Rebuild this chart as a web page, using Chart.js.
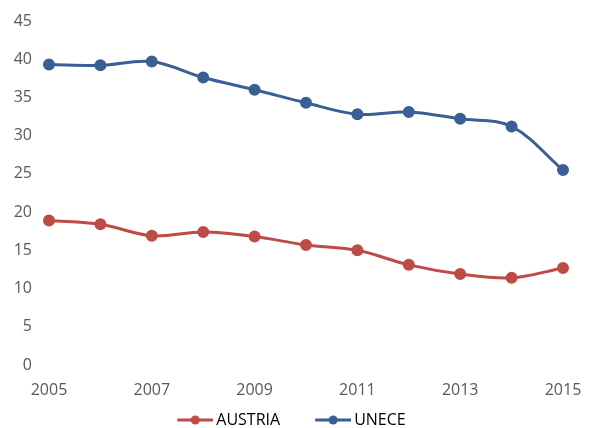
<!DOCTYPE html>
<html>
<head>
<meta charset="utf-8">
<script src="https://cdn.jsdelivr.net/npm/chart.js@4.4.0/dist/chart.umd.min.js"></script>
<style>
  html, body { margin: 0; padding: 0; background: #fff; }
  #wrap { width: 589px; height: 428px; }
</style>
</head>
<body>
<div id="wrap"><canvas id="chart"></canvas></div>
<script>
// values
const years = ['2005', '2006', '2007', '2008', '2009', '2010', '2011', '2012', '2013', '2014', '2015'];
const austria = [18.9, 18.4, 16.9, 17.4, 16.8, 15.7, 15.0, 13.1, 11.9, 11.4, 12.7];
const unece = [39.3, 39.2, 39.7, 37.6, 36.0, 34.3, 32.8, 33.1, 32.2, 31.2, 25.5];
const seriesNames = ['AUSTRIA', 'UNECE'];
const yMin = 0, yMax = 45, yStep = 5;

const red = '#BE4B48';
const blue = '#3A5F94';

// legend marker: short line with a dot, like the office style legend
const legendMarker = (color) => {
    const c = document.createElement('canvas');
    c.width = 61;
    c.height = 12;
    const g = c.getContext('2d');
    g.strokeStyle = color;
    g.lineWidth = 3;
    g.beginPath();
    g.moveTo(25, 6);
    g.lineTo(61, 6);
    g.stroke();
    g.fillStyle = color;
    g.beginPath();
    g.arc(43, 6, 4.5, 0, Math.PI * 2);
    g.fill();
    return c;
}
const markers = [legendMarker(red), legendMarker(blue)];

const font = { family: "'Open Sans', sans-serif", size: 16 };

const data = {
    labels: years,
    datasets: [{
        label: seriesNames[0],
        data: austria,
        borderColor: red,
        backgroundColor: red,
        borderWidth: 3,
        pointRadius: 4.5,
        pointHoverRadius: 4.5,
        tension: 0.35
    }, {
        label: seriesNames[1],
        data: unece,
        borderColor: blue,
        backgroundColor: blue,
        borderWidth: 3,
        pointRadius: 4.5,
        pointHoverRadius: 4.5,
        tension: 0.35
    }]
}

const config = {
    type: 'line',
    data: data,
    options: {
        responsive: true,
        maintainAspectRatio: false,
        animation: false,
        layout: { padding: { top: 21, right: 26, left: 0, bottom: -10 } },
        plugins: {
            tooltip: { enabled: false },
            legend: {
                position: 'bottom',
                labels: {
                    usePointStyle: true,
                    pointStyleWidth: 51,
                    padding: 15,
                    color: '#000',
                    font: font,
                    generateLabels: (chart) => chart.data.datasets.map((ds, i) => ({
                        text: ds.label,
                        fillStyle: ds.borderColor,
                        strokeStyle: ds.borderColor,
                        lineWidth: 0,
                        pointStyle: markers[i],
                        hidden: false,
                        datasetIndex: i,
                        fontColor: '#000'
                    }))
                }
            }
        },
        scales: {
            x: {
                offset: false,
                grid: { display: false, drawTicks: false },
                border: { display: false },
                afterFit: (scale) => {
                    scale.height = 32;
                    scale.paddingLeft = 0;
                    scale.paddingRight = 0;
                },
                ticks: {
                    autoSkip: false,
                    maxRotation: 0,
                    padding: 16,
                    color: '#595959',
                    font: font,
                    callback: (val, i) => (i % 2 === 0 ? years[i] : '')
                }
            },
            y: {
                min: yMin,
                max: yMax,
                grid: { display: false, drawTicks: false },
                border: { display: false },
                afterFit: (scale) => {
                    scale.width = 49;
                    scale.paddingTop = 0;
                    scale.paddingBottom = 0;
                },
                ticks: {
                    stepSize: yStep,
                    padding: 17,
                    color: '#595959',
                    font: font
                }
            }
        }
    }
}

new Chart(document.getElementById('chart'), config);
</script>
</body>
</html>
